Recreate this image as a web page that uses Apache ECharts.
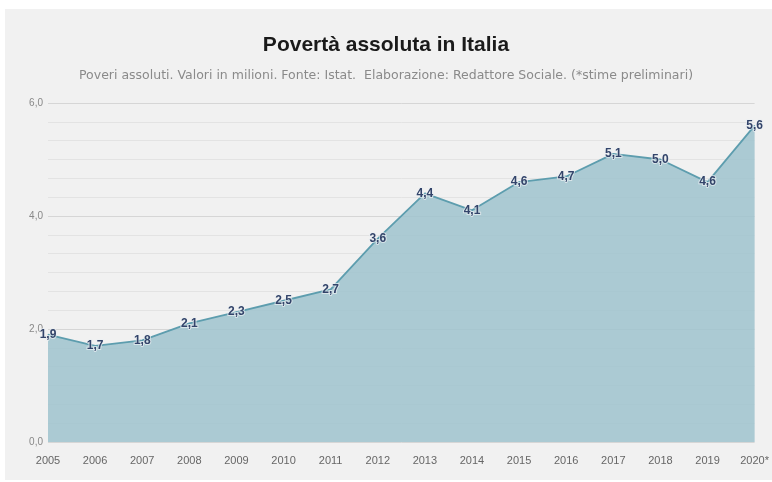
<!DOCTYPE html>
<html><head><meta charset="utf-8">
<script src="https://cdn.jsdelivr.net/npm/echarts@6/dist/echarts.min.js"></script>
<style>
html,body{margin:0;padding:0;background:#fff;width:772px;height:482px;overflow:hidden}
#bg{position:absolute;left:5px;top:9px;width:767px;height:471px;background:#f1f1f1}
#c{position:absolute;left:0;top:0;width:772px;height:482px}
</style></head>
<body><div id="bg"></div><div id="c"></div>
<script>
const years = ['2005','2006','2007','2008','2009','2010','2011','2012','2013','2014','2015','2016','2017','2018','2019','2020*'];
const poveri = [1.9,1.7,1.8,2.1,2.3,2.5,2.7,3.6,4.4,4.1,4.6,4.7,5.1,5.0,4.6,5.6];
const yTicks = [0,2,4,6];
const fmt = v => v.toFixed(1).replace('.', ',');
const chart = echarts.init(document.getElementById('c'));
chart.setOption({
  backgroundColor: 'transparent',
  animation: false,
  title: {
    text: 'Povertà assoluta in Italia',
    subtext: 'Poveri assoluti. Valori in milioni. Fonte: Istat.  Elaborazione: Redattore Sociale. (*stime preliminari)',
    left: 'center', top: 30, itemGap: 13,
    textStyle: {fontFamily: 'Liberation Sans', fontSize: 21, fontWeight: 'bold', color: '#1a1a1a'},
    subtextStyle: {fontFamily: 'DejaVu Sans', fontSize: 12.5, color: '#8a8a8a'}
  },
  grid: {left: 48, right: 15, top: 103, bottom: 40},
  xAxis: {
    type: 'category', data: years, boundaryGap: false,
    axisLine: {show: false}, axisTick: {show: false},
    axisLabel: {color: '#666', fontSize: 11, fontFamily: 'Liberation Sans', margin: 13}
  },
  yAxis: {
    type: 'value', min: 0, max: 6, interval: 2,
    axisLabel: {color: '#888', fontSize: 10, fontFamily: 'Liberation Sans', formatter: v => fmt(v), margin: 5},
    splitLine: {lineStyle: {color: '#d6d6d6', width: 1}},
    minorTick: {show: false, splitNumber: 6},
    minorSplitLine: {show: true, lineStyle: {color: '#e3e3e3', width: 1}},
    axisLine: {show: false}, axisTick: {show: false}
  },
  series: [{
    type: 'line', data: poveri,
    symbol: 'circle', symbolSize: 1, showSymbol: true,
    itemStyle: {color: '#5d9dae'},
    lineStyle: {color: '#5d9dae', width: 1.8},
    areaStyle: {color: 'rgb(157,194,205)', opacity: 0.84},
    label: {
      show: true, position: 'inside',
      formatter: p => fmt(p.value),
      color: '#33446a', fontWeight: 'bold', fontSize: 12, fontFamily: 'Liberation Sans',
      textBorderColor: 'rgba(235,240,242,0.7)', textBorderWidth: 2
    }
  }]
});
</script></body></html>
